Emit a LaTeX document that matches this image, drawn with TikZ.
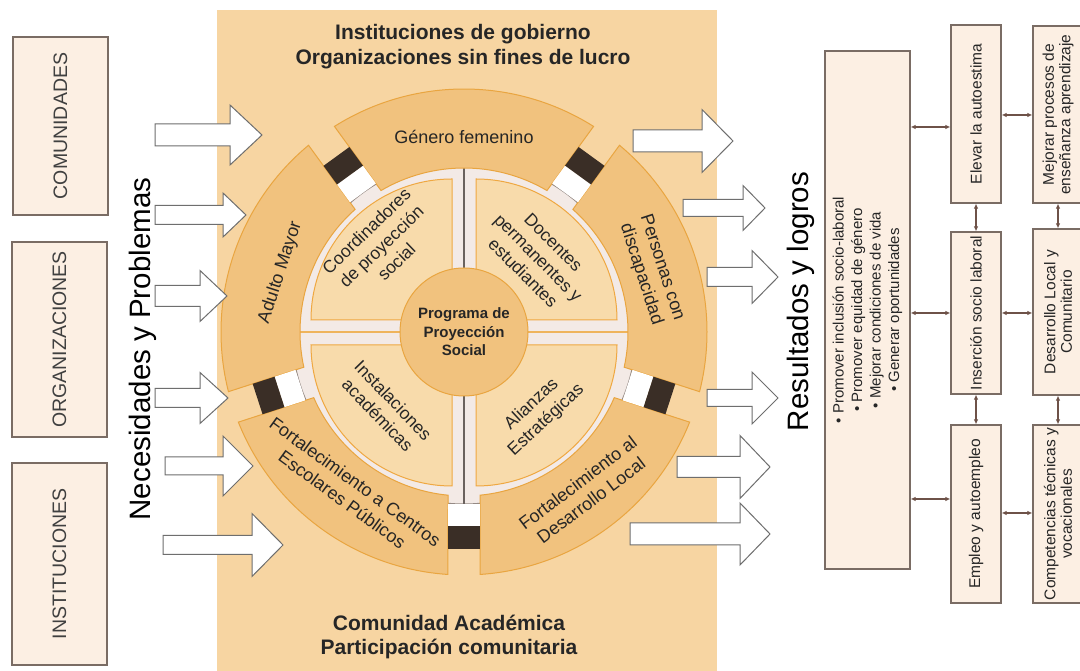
\documentclass[tikz,border=0pt]{standalone}
\usepackage{fontspec}
\setmainfont{Liberation Sans}
\usetikzlibrary{arrows.meta}
\definecolor{panel}{HTML}{F7D5A2}
\definecolor{seg}{HTML}{F1C27E}
\definecolor{segline}{HTML}{E9A540}
\definecolor{quad}{HTML}{F8DBAB}
\definecolor{quadline}{HTML}{EFA842}
\definecolor{band}{HTML}{F3EAE6}
\definecolor{bandline}{HTML}{958A85}
\definecolor{darksq}{HTML}{3A2E26}
\definecolor{boxfill}{HTML}{FCEFE3}
\definecolor{boxline}{HTML}{7A6C64}
\definecolor{connc}{HTML}{6E5248}
\definecolor{arrline}{HTML}{6E6E6E}
\definecolor{txt}{HTML}{262626}
\definecolor{ltxt}{HTML}{404040}
\definecolor{hdiv}{HTML}{EFB45C}
\definecolor{vdiv}{HTML}{6A625E}
\newcommand\blockarrow[6]{\draw[bigarr] ({#1},{#4-#5}) -- ({#2},{#4-#5}) -- ({#2},{#4-#6}) -- ({#3},{#4}) -- ({#2},{#4+#6}) -- ({#2},{#4+#5}) -- ({#1},{#4+#5}) -- cycle;}
\newcommand\ringseg[2]{\path[segshape] ({#1+3.78}:243pt) arc[start angle={#1+3.78}, end angle={#2-3.78}, radius=243pt] -- ({#2-5.6}:164pt) arc[start angle={#2-5.6}, end angle={#1+5.6}, radius=164pt] -- cycle;}
\begin{document}
\begin{tikzpicture}[x=1pt,y=1pt,
  segshape/.style={fill=seg, draw=segline, line width=1},
  quadshape/.style={fill=quad, draw=quadline, line width=1},
  segtext/.style={font=\fontsize{18}{22}\selectfont, text=txt, align=center, inner sep=0},
  quadtext/.style={font=\fontsize{17.5}{21.5}\selectfont, text=txt, align=center, inner sep=0},
  title/.style={font=\bfseries\fontsize{21}{25}\selectfont, text=txt, inner sep=0, anchor=base},
  side/.style={font=\fontsize{29.5}{34}\selectfont, text=black, rotate=90, anchor=base, inner sep=0},
  lbox/.style={draw=boxline, line width=1.2, fill=boxfill, rotate=90, inner sep=0, font=\fontsize{19.5}{22}\selectfont, text=ltxt},
  rbox/.style={draw=boxline, line width=1.2, fill=boxfill, rotate=90, inner sep=0, align=center, font=\fontsize{15.5}{16.5}\selectfont, text=txt},
  conn/.style={draw=connc, line width=1.1, {Latex[length=5pt,width=4.5pt]}-{Latex[length=5pt,width=4.5pt]}},
  bigarr/.style={draw=arrline, line width=1, fill=white, line join=miter}]
\useasboundingbox (0,0) rectangle (1080,671);
\fill[white] (0,0) rectangle (1080,671);
\fill[panel] (217,0) rectangle (717,661);
% titles
\node[title] (t1) at (463,631) {Instituciones de gobierno};
\node[title] (t2) at (463,606) {Organizaciones sin fines de lucro};
\node[title] (b1) at (449,40) {Comunidad Académica};
\node[title] (b2) at (449,16) {Participación comunitaria};
% circle group
\begin{scope}[shift={(464,339)}]
  \fill[band] (0,0) circle[radius=172pt];
  \draw[bandline, line width=1] (0,0) circle[radius=172pt];
  \draw[vdiv, line width=2] (0,64) -- (0,172);
  \draw[vdiv, line width=2] (0,-64) -- (0,-172);
  \draw[hdiv, line width=1.2] (64,0) -- (172,0);
  \draw[hdiv, line width=1.2] (-64,0) -- (-172,0);
  \path[quadshape] (-12,12) -- (-12,153) arc[start angle=90,end angle=180,radius=141pt] -- cycle;
  \path[quadshape] (12,12) -- (153,12) arc[start angle=0,end angle=90,radius=141pt] -- cycle;
  \path[quadshape] (-12,-13) -- (-153,-13) arc[start angle=180,end angle=270,radius=141pt] -- cycle;
  \path[quadshape] (12,-13) -- (12,-154) arc[start angle=270,end angle=360,radius=141pt] -- cycle;
  \node[circle, fill=seg, draw=segline, line width=1, minimum size=128pt, inner sep=0, align=center,
        font=\bfseries\fontsize{15}{18.5}\selectfont, text=txt] (prog) at (0,0) {Programa de\\Proyección\\Social};
  \ringseg{54}{126}
  \ringseg{126}{198}
  \ringseg{198}{270}
  \ringseg{270}{342}
  \ringseg{-18}{54}
  \foreach \g in {54,126,198,270,342}{
    \begin{scope}[rotate=\g]
      \fill[white] (172,-16) rectangle (194,16);
      \fill[darksq] (194,-16) rectangle (217,16);
    \end{scope}}
  \node[segtext] (gen) at (90:195pt) {Género femenino};
  \node[segtext, rotate=72] (adu) at (162:193pt) {Adulto Mayor};
  \node[segtext, rotate=-72] (per) at (18:197pt) {Personas con\\discapacidad};
  \node[segtext, rotate=37] (fdl) at (-53:200pt) {Fortalecimiento al\\Desarrollo Local};
  \node[segtext, rotate=-36] (fce) at (234:196pt) {Fortalecimiento a Centros\\Escolares Públicos};
  \node[quadtext, rotate=44] (coo) at (134:119pt) {Coordinadores\\de proyección\\social};
  \node[quadtext, rotate=-45] (doc) at (45:105pt) {Docentes\\permanentes y\\estudiantes};
  \node[quadtext, rotate=-46] (ins1) at (224:109pt) {Instalaciones\\académicas};
  \node[quadtext, rotate=43] (ali) at (-47:110pt) {Alianzas\\Estratégicas};
\end{scope}
% left boxes
\node[lbox, minimum width=178pt, minimum height=95pt] (com) at (60.5,545) {COMUNIDADES};
\node[lbox, minimum width=195pt, minimum height=95pt] (org) at (59.5,331.5) {ORGANIZACIONES};
\node[lbox, minimum width=202pt, minimum height=95pt] (inst) at (59.5,107) {INSTITUCIONES};
\node[side] (nec) at (150,322) {Necesidades y Problemas};
\node[side] (res) at (808,369.5) {Resultados y logros};
% left block arrows
\blockarrow{155}{230}{262}{536}{11}{30}
\blockarrow{155}{223}{246}{456}{9.5}{22}
\blockarrow{155}{200}{227}{375}{10.5}{25.5}
\blockarrow{155}{200}{228}{273}{9.5}{25.5}
\blockarrow{165}{223}{253}{205}{9}{30}
\blockarrow{163}{252}{283}{126}{9.5}{31.5}
% right block arrows
\blockarrow{633}{702}{733}{530}{11}{31.5}
\blockarrow{683}{743}{765}{463}{8.5}{22.5}
\blockarrow{707}{752}{778}{394}{9.5}{26.5}
\blockarrow{707}{752}{778}{273}{8.5}{26}
\blockarrow{677}{740}{770}{204}{10.5}{31.5}
\blockarrow{630}{740}{770}{137}{11}{31}
% right boxes
\node[rbox, minimum width=518pt, minimum height=85pt, font=\fontsize{15}{18.5}\selectfont] (big) at (867.5,361)
  {• Promover inclusión socio-laboral\\• Promover equidad de género\\• Mejorar condiciones de vida\\• Generar oportunidades};
\node[rbox, minimum width=178pt, minimum height=50pt] (elev) at (976,557) {Elevar la autoestima};
\node[rbox, minimum width=162pt, minimum height=50pt] (ins) at (976,358) {Inserción socio laboral};
\node[rbox, minimum width=178pt, minimum height=50pt] (emp) at (976,157) {Empleo y autoempleo};
\node[rbox, minimum width=177pt, minimum height=50pt] (mej) at (1058,556.5) {Mejorar procesos de\\enseñanza aprendizaje};
\node[rbox, minimum width=166pt, minimum height=50pt] (des) at (1058,359) {Desarrollo Local y\\Comunitario};
\node[rbox, minimum width=178pt, minimum height=50pt] (comp) at (1058,157) {Competencias técnicas y\\vocacionales};
\coordinate (h1) at (0,544);
\coordinate (h2) at (0,358);
\coordinate (h3) at (0,172);
\coordinate (h4) at (0,556);
\coordinate (h5) at (0,358);
\coordinate (h6) at (0,158);
\draw[conn] (big.south |- h1) -- (elev.north |- h1);
\draw[conn] (big.south |- h2) -- (ins.north |- h2);
\draw[conn] (big.south |- h3) -- (emp.north |- h3);
\draw[conn] (elev.south |- h4) -- (mej.north |- h4);
\draw[conn] (ins.south |- h5) -- (des.north |- h5);
\draw[conn] (emp.south |- h6) -- (comp.north |- h6);
\draw[conn] (elev.west) -- (ins.east);
\draw[conn] (ins.west) -- (emp.east);
\draw[conn] (mej.west) -- (des.east);
\draw[conn] (des.west) -- (comp.east);
\end{tikzpicture}
\end{document}
